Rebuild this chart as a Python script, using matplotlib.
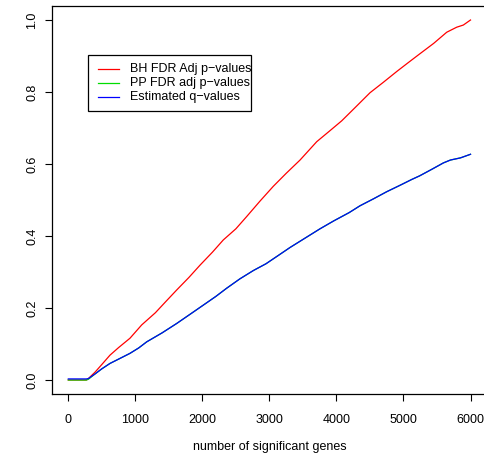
import matplotlib
matplotlib.use("Agg")
import matplotlib.pyplot as plt
from matplotlib.patches import Rectangle
from matplotlib.lines import Line2D

plt.rcParams['font.family'] = ['Liberation Sans', 'DejaVu Sans']

# Number of significant genes (x) and corresponding adjusted values
bh_genes = [0, 100, 200, 270, 300, 400, 500, 622, 750, 920, 1095, 1300, 1450, 1617,
            1800, 1965, 2150, 2312, 2500, 2661, 2860, 3058, 3250, 3457, 3706, 3900,
            4079, 4280, 4501, 4700, 4900, 5060, 5222, 5450, 5645, 5794, 5893, 6000]
bh_values = [0.0, 0.0, 0.0, 0.0, 0.004, 0.022, 0.043, 0.069, 0.090, 0.116, 0.153,
             0.187, 0.217, 0.250, 0.285, 0.319, 0.355, 0.389, 0.420, 0.454, 0.497,
             0.538, 0.574, 0.611, 0.662, 0.692, 0.720, 0.757, 0.798, 0.827, 0.857,
             0.880, 0.903, 0.935, 0.966, 0.980, 0.986, 1.0]

q_genes = [0, 100, 200, 270, 300, 400, 500, 622, 750, 920, 1050, 1170, 1400, 1617,
           1820, 2014, 2200, 2363, 2560, 2760, 2950, 3133, 3307, 3531, 3755, 3960,
           4190, 4352, 4550, 4750, 4950, 5123, 5240, 5420, 5595, 5700, 5850, 6000]
pp_values = [0.0, 0.0, 0.0, 0.0, 0.002, 0.017, 0.031, 0.046, 0.058, 0.074, 0.089,
             0.106, 0.131, 0.157, 0.183, 0.208, 0.232, 0.255, 0.281, 0.304, 0.323,
             0.346, 0.368, 0.394, 0.420, 0.442, 0.465, 0.484, 0.503, 0.523, 0.541,
             0.557, 0.567, 0.585, 0.603, 0.611, 0.617, 0.627]
q_values = [0.003, 0.003, 0.003, 0.003, 0.004, 0.017, 0.031, 0.046, 0.058, 0.074,
            0.089, 0.106, 0.131, 0.157, 0.183, 0.208, 0.232, 0.255, 0.281, 0.304,
            0.323, 0.346, 0.368, 0.394, 0.420, 0.442, 0.465, 0.484, 0.503, 0.523,
            0.541, 0.557, 0.567, 0.585, 0.603, 0.611, 0.617, 0.627]

series_labels = ["BH FDR Adj p\u2212values", "PP FDR adj p\u2212values", "Estimated q\u2212values"]
series_colors = ["#FF0000", "#00DD00", "#0000FF"]

x_ticks = [0, 1000, 2000, 3000, 4000, 5000, 6000]
y_ticks = [0.0, 0.2, 0.4, 0.6, 0.8, 1.0]
x_label = "number of significant genes"

W, H = 485, 459
fig = plt.figure(figsize=(W / 100, H / 100), dpi=100)
# plot region in pixels; the right edge runs past the canvas
left, right, top, bottom = 52.2, 486.6, 5.6, 394.4
ax = fig.add_axes([left / W, (H - bottom) / H, (right - left) / W, (bottom - top) / H])

lw = 0.9
ax.plot(bh_genes, bh_values, color=series_colors[0], lw=lw)
ax.plot(q_genes, pp_values, color=series_colors[1], lw=lw)
ax.plot(q_genes, q_values, color=series_colors[2], lw=lw)

ax.set_xlim(-240, 6240)
ax.set_ylim(-0.04, 1.04)

for s in ax.spines.values():
    s.set_linewidth(0.9)
    s.set_color("black")
ax.spines["right"].set_visible(False)

ax.set_xticks(x_ticks)
ax.set_xticklabels([str(t) for t in x_ticks])
ax.set_yticks(y_ticks)
ax.set_yticklabels([f"{t:.1f}" for t in y_ticks], rotation=90, va="center")
ax.tick_params(axis="both", length=5.2, width=0.8, labelsize=9, color="black")
ax.tick_params(axis="x", pad=9)
ax.tick_params(axis="y", pad=5)
ax.set_xlabel(x_label, fontsize=9, labelpad=11)

# Legend box drawn in pixel coordinates
def px(x, y):
    return x / W, 1 - y / H

bx0, by0, bx1, by1 = 88.3, 55, 250.7, 111
fig.patches.append(Rectangle(px(bx0, by1), (bx1 - bx0) / W, (by1 - by0) / H,
                             transform=fig.transFigure, fill=False,
                             edgecolor="black", linewidth=0.9))
rows = [69, 83, 97]
for label, color, yy in zip(series_labels, series_colors, rows):
    x0, y0 = px(98, yy)
    x1, _ = px(119, yy)
    fig.lines.append(Line2D([x0, x1], [y0, y0], transform=fig.transFigure,
                            color=color, lw=lw))
    tx, ty = px(130, yy)
    fig.text(tx, ty, label, fontsize=9, va="center", ha="left")

fig.savefig("out.png", dpi=100)
